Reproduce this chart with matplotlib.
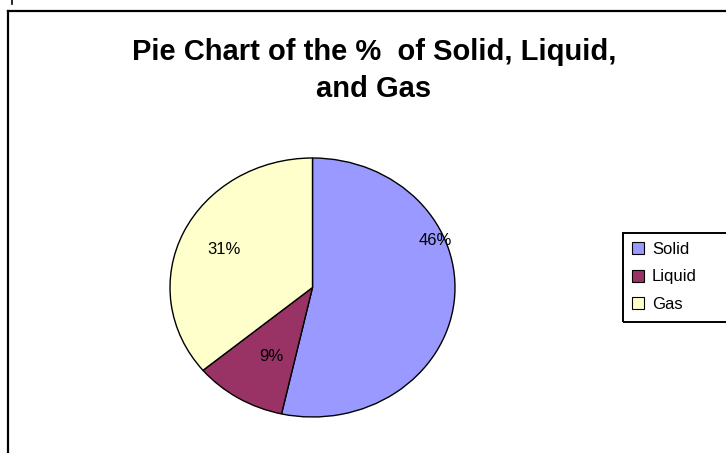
import matplotlib.pyplot as plt
from matplotlib.lines import Line2D
from matplotlib.patches import Rectangle

# data
phases = ['Solid', 'Liquid', 'Gas']
percents = [46, 9, 31]
colors = ['#9999FF', '#993366', '#FFFFCC']

W, H = 726, 453
fig = plt.figure(figsize=(W / 100, H / 100), dpi=100)
plt.rcParams['font.family'] = ['Liberation Sans', 'DejaVu Sans']

def fx(px):
    return px / W

def fy(py):
    return 1 - py / H

# chart border (open to right and bottom, like the cropped Excel chart)
fig.add_artist(Line2D([fx(8), fx(8)], [fy(11), 0], color='black', lw=1.6))
fig.add_artist(Line2D([fx(8), 1], [fy(11), fy(11)], color='black', lw=1.6))
fig.add_artist(Line2D([fx(12), fx(12)], [1, fy(4)], color='black', lw=1.2))

fig.text(fx(374), fy(52), 'Pie Chart of the %  of Solid, Liquid,', ha='center', va='center',
         fontsize=21, fontweight='bold')
fig.text(fx(374), fy(89), 'and Gas', ha='center', va='center',
         fontsize=21, fontweight='bold')

# pie drawn as an ellipse: axes spans the pie bounds
ax = fig.add_axes([fx(170), fy(417), fx(455) - fx(170), (417 - 158) / H])
wedges, texts, autotexts = ax.pie(
    percents, colors=colors, startangle=90, counterclock=False,
    wedgeprops=dict(edgecolor='black', linewidth=1.0),
    autopct=lambda p: f'{p * sum(percents) / 100:.0f}%',
    textprops=dict(fontsize=12, color='black'))
ax.set_aspect('auto')
ax.set_xlim(-1.0, 1.0)
ax.set_ylim(-1.0, 1.0)
ax.axis('off')

label_pos = [(0.86, 0.36), (-0.29, -0.53), (-0.62, 0.29)]
for t, pos in zip(autotexts, label_pos):
    t.set_position(pos)

# legend box runs off the right edge like the reference
fig.add_artist(Rectangle((fx(623), fy(322)), fx(140), (322 - 233) / H,
                         transform=fig.transFigure, facecolor='none',
                         edgecolor='black', lw=1.4))
leg = fig.legend(wedges, phases, loc='upper left', bbox_to_anchor=(fx(632), fy(242)),
                 frameon=False, fontsize=12,
                 handlelength=0.7, handleheight=0.7, handletextpad=0.5,
                 borderpad=0, labelspacing=0.75, borderaxespad=0)
for h in leg.legend_handles:
    h.set_edgecolor('black')
    h.set_linewidth(0.8)

fig.savefig('out.png', dpi=100)
